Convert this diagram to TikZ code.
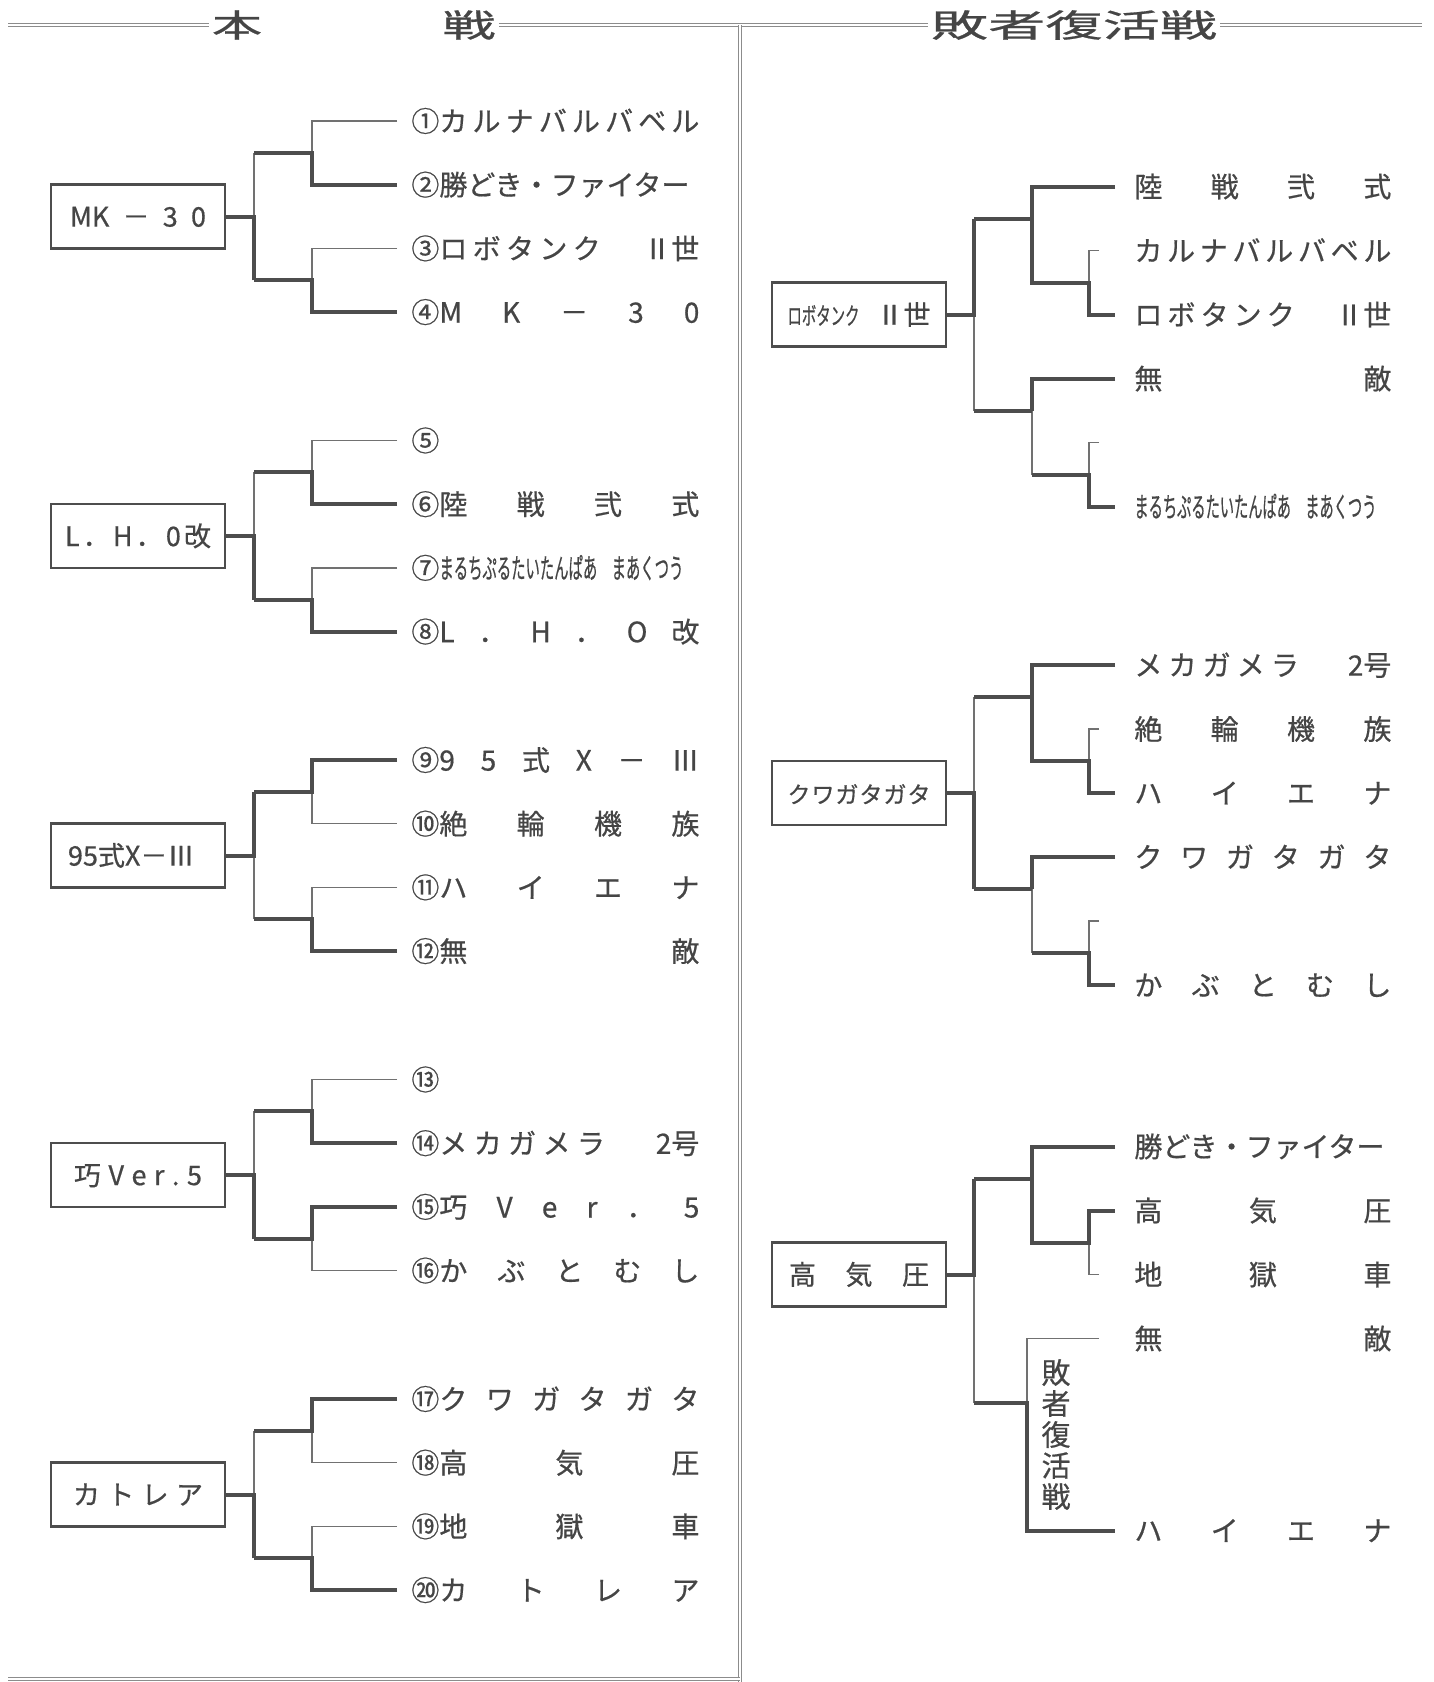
\documentclass[tikz,border=0pt]{standalone}
\usepackage{fontspec}
\setmainfont{Noto Sans CJK JP}[FakeBold=0.6]
\usepackage{graphicx}
\usetikzlibrary{calc}
\definecolor{bgray}{HTML}{4D4D4D}
\definecolor{tgray}{HTML}{454545}
\definecolor{rgray}{HTML}{8C8C8C}
\newcommand{\namebox}[2]{\hbox to #1{\spaceskip=0pt plus 1fil\xspaceskip=0pt plus 1fil\relax#2}}

\begin{document}
\begin{tikzpicture}[x=0.5pt,y=-0.5pt, thk/.style={draw=bgray,line width=2pt}, thn/.style={draw=bgray!80,line width=0.75pt}, rule/.style={draw=rgray,double=white,line width=.6pt,double distance=.8pt}, pbox/.style={draw=bgray,line width=1.3pt,minimum width=87pt,minimum height=32pt,inner sep=0pt,text=tgray,font=\fontsize{13.5}{13.5}\selectfont,text height=11.8pt,text depth=1.7pt}, lname/.style={anchor=west,inner xsep=7pt,inner ysep=0pt,text=tgray,font=\fontsize{14}{14}\selectfont,text height=12.3pt,text depth=1.7pt}, rname/.style={lname,inner xsep=9.5pt}, ttl/.style={inner sep=1.5pt,text=tgray,font=\fontsize{16}{16}\selectfont}]
\fill[white] (0,0) rectangle (1434,1682);
\useasboundingbox (0,0) rectangle (1434,1682);

\node[ttl] (hon) at (237,25) {\resizebox{25pt}{\height}{本}};
\node[ttl] (sen) at (469,25) {\resizebox{26.5pt}{\height}{戦}};
\node[ttl] (fuk) at (1074,25) {\resizebox{143pt}{\height}{敗者復活戦}};
\coordinate (tl) at (8,25); \coordinate (tr) at (1422,25); \coordinate (dv) at (740,25); \coordinate (db) at (740,1682);
\coordinate (bl) at (8,1679); \coordinate (br) at (740,1679);
\draw[rule] (tl) -- (hon.west); \draw[rule] (sen.east) -- (fuk.west); \draw[rule] (fuk.east) -- (tr);
\draw[rule] (dv) -- (db); \draw[rule] (bl) -- (br);

\foreach \n/\txt in {1/{①カ ル ナ バ ル バ ベ ル},2/{②勝どき・ファイター},3/{③ロ ボ タ ン ク\hspace{0pt plus 8fil}Ⅱ世},4/{④M K － 3 0},5/{⑤},6/{⑥陸 戦 弐 式},7/{⑦\resizebox{122pt}{\height}{まるちぷるたいたんぱあ\hspace{1em}まあくつう}},8/{⑧L ． H ． O 改},9/{⑨9 5 式 X － Ⅲ},10/{⑩絶 輪 機 族},11/{⑪ハ イ エ ナ},12/{⑫無 敵},13/{⑬},14/{⑭メ カ ガ メ ラ\hspace{0pt plus 8fil}2号},15/{⑮巧 V e r ． 5},16/{⑯か ぶ と む し},17/{⑰ク ワ ガ タ ガ タ},18/{⑱高 気 圧},19/{⑲地 獄 車},20/{⑳カ ト レ ア}}{
  \pgfmathsetmacro\yy{121+319.5*int((\n-1)/4)+63.7*mod(\n-1,4)}
  \node[lname] (l\n) at (397,\yy) {\namebox{144pt}{\txt}};
}
\foreach \g/\w/\txt in {0/68pt/{MK － 3 0},1/73pt/{L ． H ． 0 改},2/70pt/{95式X－Ⅲ},3/64pt/{巧 V e r . 5},4/65pt/{カ ト レ ア}}{
  \pgfmathsetmacro\yy{216.5+319.5*\g}
  \node[pbox] (lb\g) at (138,\yy) {\namebox{\w}{\txt}};
}
\coordinate (ca) at (312,0); \coordinate (cb) at (254,0);
\foreach \g/\wa/\wb/\wf in {0/2/4/d,1/2/4/d,2/1/4/u,3/2/3/d,4/1/4/d}{
  \pgfmathtruncatemacro\na{4*\g+1}
  \pgfmathtruncatemacro\nb{4*\g+2}
  \pgfmathtruncatemacro\nc{4*\g+3}
  \pgfmathtruncatemacro\nd{4*\g+4}
  \pgfmathtruncatemacro\nwa{4*\g+\wa}
  \pgfmathtruncatemacro\nwb{4*\g+\wb}
  \coordinate (u\g) at ($(l\na.west)!.5!(l\nb.west)$);
  \coordinate (d\g) at ($(l\nc.west)!.5!(l\nd.west)$);
  \draw[thn] (l\na.west) -| (l\nb.west -| ca) -- (l\nb.west);
  \draw[thn] (l\nc.west) -| (l\nd.west -| ca) -- (l\nd.west);
  \draw[thn] (u\g -| cb) -- (d\g -| cb);
  \draw[thk] (l\nwa.west) -| (u\g -| ca) -- (u\g -| cb);
  \draw[thk] (l\nwb.west) -| (d\g -| ca) -- (d\g -| cb);
  \draw[thk] (\wf\g -| cb) |- (lb\g.east);
}

\node[rname] (ra1) at (1115,186.6) {\namebox{128.5pt}{陸 戦 弐 式}};
\node[rname] (ra2) at (1115,250.6) {\namebox{128.5pt}{カ ル ナ バ ル バ ベ ル}};
\node[rname] (ra3) at (1115,314.6) {\namebox{128.5pt}{ロ ボ タ ン ク\hspace{0pt plus 8fil}Ⅱ世}};
\node[rname] (ra4) at (1115,378.6) {\namebox{128.5pt}{無 敵}};
\coordinate (ra5) at (1115,442.6);
\node[rname] (ra6) at (1115,506.6) {\namebox{128.5pt}{\resizebox{121pt}{\height}{まるちぷるたいたんぱあ\hspace{1em}まあくつう}}};
\node[rname] (rb1) at (1115,665) {\namebox{128.5pt}{メ カ ガ メ ラ\hspace{0pt plus 8fil}2号}};
\node[rname] (rb2) at (1115,729) {\namebox{128.5pt}{絶 輪 機 族}};
\node[rname] (rb3) at (1115,793) {\namebox{128.5pt}{ハ イ エ ナ}};
\node[rname] (rb4) at (1115,857) {\namebox{128.5pt}{ク ワ ガ タ ガ タ}};
\coordinate (rb5) at (1115,921);
\node[rname] (rb6) at (1115,985) {\namebox{128.5pt}{か ぶ と む し}};
\node[rname] (rc1) at (1115,1146.5) {\namebox{128.5pt}{勝どき・ファイター}};
\node[rname] (rc2) at (1115,1210.5) {\namebox{128.5pt}{高 気 圧}};
\node[rname] (rc3) at (1115,1274.5) {\namebox{128.5pt}{地 獄 車}};
\node[rname] (rc4) at (1115,1338.5) {\namebox{128.5pt}{無 敵}};
\node[rname] (rc5) at (1115,1530.5) {\namebox{128.5pt}{ハ イ エ ナ}};
\node[text=tgray,font=\fontsize{14.5}{15.5}\selectfont,align=center,inner sep=0pt] (vt) at (1056,1434.5) {敗\\者\\復\\活\\戦};

\node[pbox] (rba) at (859,314.6) {\namebox{71.5pt}{\resizebox{36pt}{\height}{\fontsize{12}{12}\selectfont ロボタンク} Ⅱ世}};
\node[pbox] (rbb) at (859,793) {\namebox{71.5pt}{\fontsize{11.5}{11.5}\selectfont ク ワ ガ タ ガ タ}};
\node[pbox] (rbc) at (859,1274.5) {\namebox{70pt}{高 気 圧}};

\coordinate (rB) at (974,0); \coordinate (rA) at (1032,0); \coordinate (rA2) at (1027,0); \coordinate (rC) at (1089,0); \coordinate (rS) at (1099,0);
\coordinate (ma1) at ($(ra2.west)!.5!(ra3.west)$); \coordinate (ma2) at ($(ra5)!.5!(ra6.west)$);
\coordinate (ja1) at ($(ra1.west)!1/3!(ma1)$); \coordinate (ja2) at ($(ra4.west)!1/3!(ma2)$);
\draw[thn] (ra2.west -| rS) -| (ma1 -| rC);
\draw[thn] (ra5 -| rS) -| (ma2 -| rC);
\draw[thn] (ja2 -| rA) -- (ma2 -| rA);
\draw[thn] (rba.east -| rB) -- (ja2 -| rB);
\draw[thk] (ra1.west) -| (ma1 -| rA) -- (ma1 -| rC) |- (ra3.west);
\draw[thk] (ra4.west) -| (ja2 -| rA);
\draw[thk] (ma2 -| rA) -- (ma2 -| rC) |- (ra6.west);
\draw[thk] (ja1 -| rB) -- (ja1 -| rA);
\draw[thk] (ja2 -| rB) -- (ja2 -| rA);
\draw[thk] (rba.east) -| (ja1 -| rB);

\coordinate (mb1) at ($(rb2.west)!.5!(rb3.west)$); \coordinate (mb2) at ($(rb5)!.5!(rb6.west)$);
\coordinate (jb1) at ($(rb1.west)!1/3!(mb1)$); \coordinate (jb2) at ($(rb4.west)!1/3!(mb2)$);
\draw[thn] (rb2.west -| rS) -| (mb1 -| rC);
\draw[thn] (rb5 -| rS) -| (mb2 -| rC);
\draw[thn] (jb2 -| rA) -- (mb2 -| rA);
\draw[thn] (rbb.east -| rB) -- (jb1 -| rB);
\draw[thk] (rb1.west) -| (mb1 -| rA) -- (mb1 -| rC) |- (rb3.west);
\draw[thk] (rb4.west) -| (jb2 -| rA);
\draw[thk] (mb2 -| rA) -- (mb2 -| rC) |- (rb6.west);
\draw[thk] (jb1 -| rB) -- (jb1 -| rA);
\draw[thk] (jb2 -| rB) -- (jb2 -| rA);
\draw[thk] (rbb.east) -| (jb2 -| rB);

\coordinate (mc1) at ($(rc2.west)!.5!(rc3.west)$);
\coordinate (jc1) at ($(rc1.west)!1/3!(mc1)$); \coordinate (jc2) at ($(rc4.west)!1/3!(rc5.west)$);
\draw[thn] (rc3.west -| rS) -| (mc1 -| rC);
\draw[thn] (rc4.west -| rS) -| (jc2 -| rA2);
\draw[thn] (rbc.east -| rB) -- (jc2 -| rB);
\draw[thk] (rc1.west) -| (mc1 -| rA) -- (mc1 -| rC) |- (rc2.west);
\draw[thk] (jc1 -| rB) -- (jc1 -| rA);
\draw[thk] (rbc.east) -| (jc1 -| rB);
\draw[thk] (jc2 -| rB) -- (jc2 -| rA2) |- (rc5.west);
\end{tikzpicture}
\end{document}
